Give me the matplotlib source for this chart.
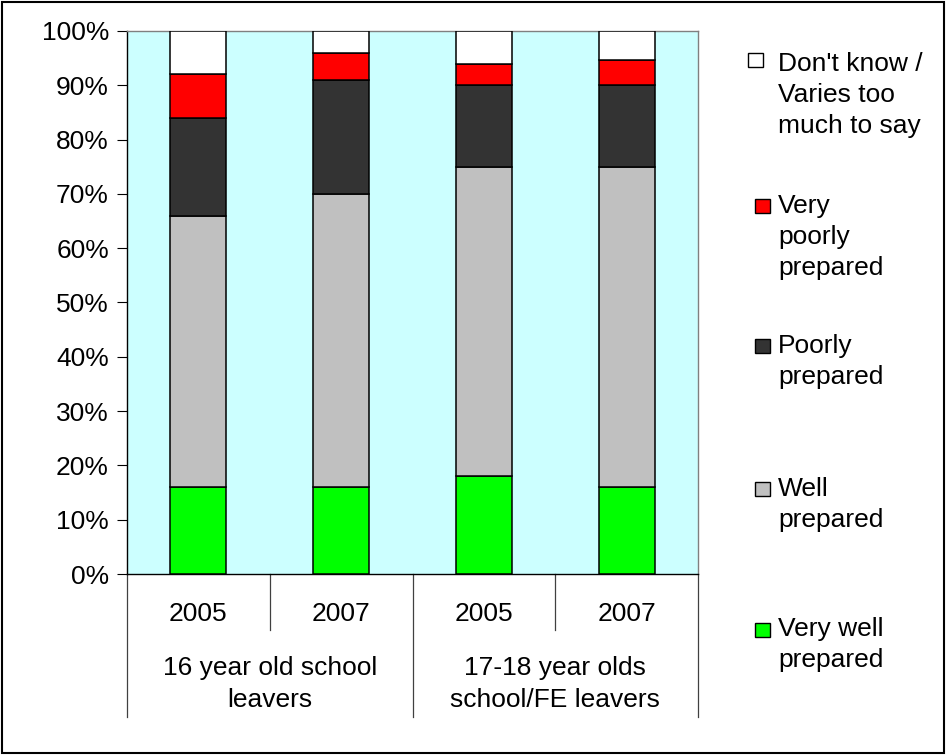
import matplotlib.pyplot as plt
from matplotlib.patches import Rectangle
from matplotlib.transforms import blended_transform_factory
import numpy as np

plt.rcParams['font.family'] = ['Liberation Sans', 'DejaVu Sans']

years = ['2005', '2007', '2005', '2007']
groups = ['16 year old school\nleavers', '17-18 year olds\nschool/FE leavers']

# stacked shares (%), bottom to top
very_well = [16, 16, 18, 16]
well = [50, 54, 57, 59]
poorly = [18, 21, 15, 15]
very_poorly = [8, 5, 4, 4.7]
dont_know = [8, 4, 6, 5.3]

series = [very_well, well, poorly, very_poorly, dont_know]
colors = ['#00FF00', '#C0C0C0', '#333333', '#FF0000', '#FFFFFF']
names = ['Very well\nprepared', 'Well\nprepared', 'Poorly\nprepared',
         'Very\npoorly\nprepared', "Don't know /\nVaries too\nmuch to say"]

FS = 19
W, H = 946, 755
fig = plt.figure(figsize=(W / 100, H / 100), dpi=100)
ax = fig.add_axes([127 / W, 1 - 574 / H, (698 - 127) / W, (574 - 31) / H])
ax.set_facecolor('#CCFFFF')

x = np.arange(len(years)) + 0.5
bottom = np.zeros(len(years))
for vals, c in zip(series, colors):
    ax.bar(x, vals, width=0.392, bottom=bottom, color=c,
           edgecolor='black', linewidth=1.1, zorder=3)
    bottom += np.array(vals)

ax.set_xlim(0, 4)
ax.set_ylim(0, 100)
ax.set_yticks(np.arange(0, 101, 10))
ax.set_yticklabels([f'{v}%' for v in range(0, 101, 10)], fontsize=FS)
ax.tick_params(axis='y', direction='out', length=7, width=0.8, pad=6)
ax.set_xticks([])
for s in ['top', 'right']:
    ax.spines[s].set_color('#808080')
    ax.spines[s].set_linewidth(1.0)
for s in ['left', 'bottom']:
    ax.spines[s].set_color('black')
    ax.spines[s].set_linewidth(1.0)

# multi-level category axis
tr = blended_transform_factory(ax.transData, fig.transFigure)
def fy(py):
    return 1 - py / H
for xi, yr in zip(x, years):
    ax.text(xi, fy(621), yr, transform=tr, ha='center', va='baseline', fontsize=FS)
for xs in [1, 3]:
    ax.plot([xs, xs], [fy(574), fy(630)], transform=tr, color='#404040',
            lw=0.9, clip_on=False)
for xs in [0, 2, 4]:
    ax.plot([xs, xs], [fy(574), fy(717)], transform=tr, color='#404040',
            lw=0.9, clip_on=False)
for gi, g in enumerate(groups):
    # baseline of last line
    ax.text(1 + 2 * gi, fy(707), g, transform=tr, ha='center', va='baseline',
            fontsize=FS, linespacing=1.41, multialignment='center')

# legend (baseline of the last line, marker bottom on first baseline)
leg_last = [667, 527, 384, 275, 133]
leg_first = [637, 496, 353, 213, 67]
leg_mx = [755, 755, 755, 755, 748]
for name, c, lb, fb, mx in zip(names, colors, leg_last, leg_first, leg_mx):
    fig.add_artist(Rectangle((mx / W, fy(fb)), 15 / W, 14 / H,
                             transform=fig.transFigure, facecolor=c,
                             edgecolor='black', linewidth=1.0))
    fig.text(778 / W, fy(lb), name, ha='left', va='baseline', fontsize=FS,
             linespacing=1.38)

# outer frame
fig.add_artist(Rectangle((1.5 / W, 2.5 / H), (W - 3.5) / W, (H - 4.5) / H,
                         transform=fig.transFigure, fill=False,
                         edgecolor='black', linewidth=1.5))

fig.savefig('out.png', dpi=100)
